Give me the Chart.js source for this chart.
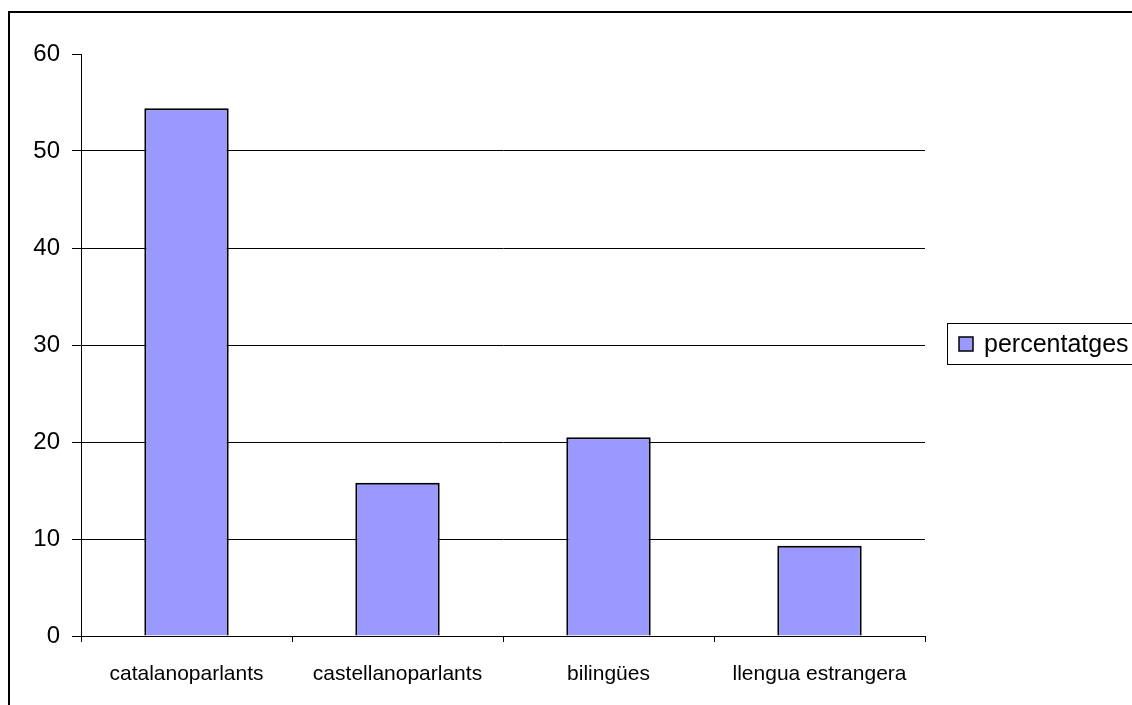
<!DOCTYPE html>
<html>
<head>
<meta charset="utf-8">
<script src="https://cdn.jsdelivr.net/npm/chart.js@4.4.1/dist/chart.umd.min.js"></script>
<style>
  body { margin: 0; background: #fff; }
  #wrap { width: 1132px; height: 705px; }
</style>
</head>
<body>
<div id="wrap"><canvas id="langChart" width="1132" height="705"></canvas></div>
<script>
const categories = ['catalanoparlants', 'castellanoparlants', 'bilingües', 'llengua estrangera'];
const seriesName = 'percentatges';
const percentages = [54.4, 15.8, 20.5, 9.3];
const yTicks = [0, 10, 20, 30, 40, 50, 60];

const FONT = "Arial, 'Liberation Sans', sans-serif";

// outer frame + legend box, drawn like the old Excel chart
const framePlugin = {
  id: 'frame',
  afterDraw(chart) {
    const ctx = chart.ctx;
    const ds = chart.data.datasets[0];
    ctx.save();
    ctx.strokeStyle = '#000';
    ctx.lineWidth = 2;
    ctx.strokeRect(9, 12, 1140, 720);

    // legend
    ctx.lineWidth = 1;
    ctx.strokeRect(947.5, 323.5, 200, 41);
    ctx.fillStyle = ds.backgroundColor;
    ctx.fillRect(959, 337, 14, 14);
    ctx.strokeStyle = '#000';
    ctx.lineWidth = 1.5;
    ctx.strokeRect(959, 337, 14, 14);
    ctx.fillStyle = '#000';
    ctx.font = '25px ' + FONT;
    ctx.textBaseline = 'middle';
    ctx.textAlign = 'left';
    ctx.fillText(ds.label, 984, 345);
    ctx.restore();
  }
};

const ctx = document.getElementById('langChart').getContext('2d');
const langChart = new Chart(ctx, {
  type: 'bar',
  data: {
    labels: categories,
    datasets: [{
      label: seriesName,
      data: percentages,
      backgroundColor: '#9999ff',
      borderColor: '#000',
      borderWidth: 2,
      barPercentage: 0.4,
      categoryPercentage: 1.0
    }]
  },
  options: {
    responsive: false,
    animation: false,
    layout: { padding: { left: 0, top: 54, right: 207, bottom: 0 } },
    plugins: {
      legend: { display: false },
      tooltip: { enabled: false }
    },
    scales: {
      x: {
        afterFit: scale => { scale.height = 69; },
        grid: { drawOnChartArea: false, tickLength: 6, tickColor: '#000' },
        border: { display: true, color: '#000', width: 1 },
        ticks: { color: '#000', font: { family: FONT, size: 21 }, padding: 20, maxRotation: 0 }
      },
      y: {
        min: 0,
        max: 60,
        afterFit: scale => { scale.width = 81; },
        afterBuildTicks: scale => { scale.ticks = yTicks.map(v => ({ value: v })); },
        grid: {
          color: c => (c.tick && c.tick.value === 60) ? 'rgba(0,0,0,0)' : '#000',
          tickColor: '#000',
          tickLength: 9,
          lineWidth: 1
        },
        border: { display: true, color: '#000', width: 1 },
        ticks: { color: '#000', font: { family: FONT, size: 24 }, padding: 12 }
      }
    }
  },
  plugins: [framePlugin]
});
</script>
</body>
</html>
